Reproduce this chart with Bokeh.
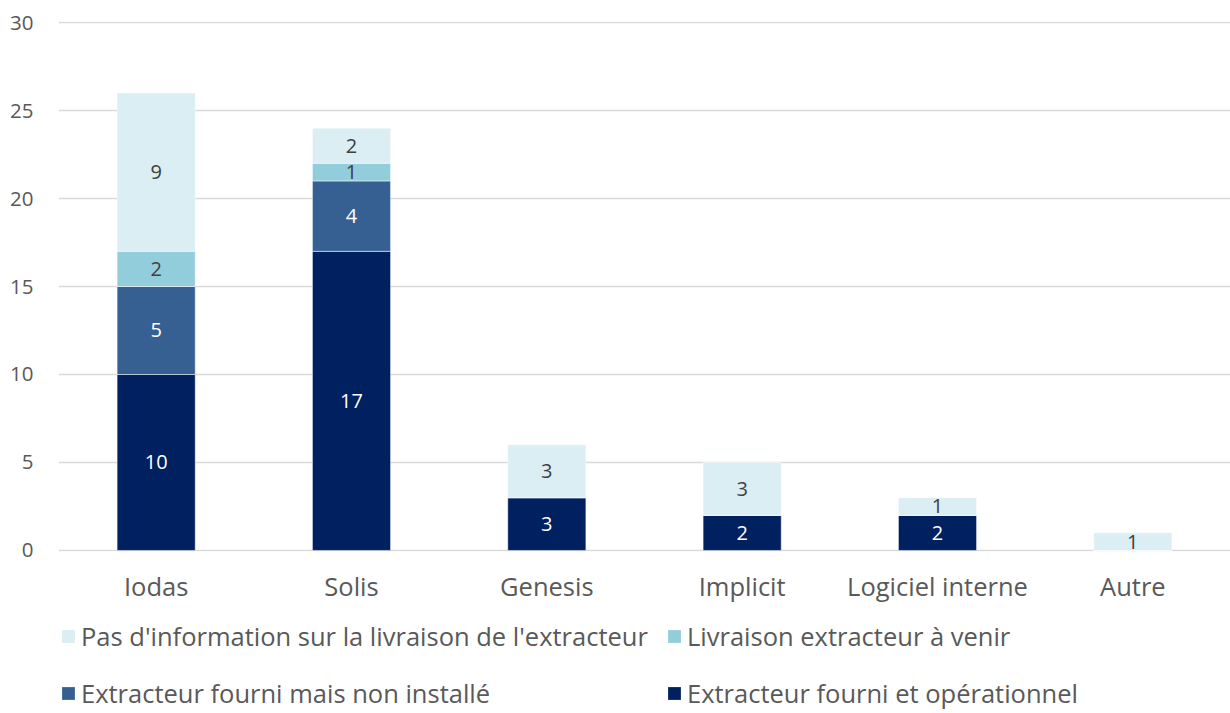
from bokeh.plotting import figure
from bokeh.layouts import column
from bokeh.models import ColumnDataSource, FactorRange, Range1d, Legend, LegendItem, LabelSet, FixedTicker
from bokeh.core.properties import value
from bokeh.embed import file_html
from bokeh.resources import INLINE

categories = ["Iodas", "Solis", "Genesis", "Implicit", "Logiciel interne", "Autre"]
operationnel = [10, 17, 3, 2, 2, 0]
non_installe = [5, 4, 0, 0, 0, 0]
a_venir = [2, 1, 0, 0, 0, 0]
pas_info = [9, 2, 3, 3, 1, 1]
series_keys = ["operationnel", "non_installe", "a_venir", "pas_info"]
series_labels = ["Extracteur fourni et opérationnel", "Extracteur fourni mais non installé",
                 "Livraison extracteur à venir", "Pas d'information sur la livraison de l'extracteur"]
series_colors = ["#002060", "#366092", "#92CDDC", "#DAEEF3"]
label_colors = ["#FFFFFF", "#FFFFFF", "#404040", "#404040"]
y_ticks = [0, 5, 10, 15, 20, 25, 30]

FONT = "Open Sans"
GRAY = "#595959"

data = dict(cat=categories, operationnel=operationnel, non_installe=non_installe,
            a_venir=a_venir, pas_info=pas_info)
src = ColumnDataSource(data)

# ---------------- main chart ----------------
p = figure(x_range=FactorRange(*categories, range_padding=0), y_range=Range1d(-0.06, 30.06),
           width=1230, height=610, output_backend="svg", toolbar_location=None,
           min_border_left=58, min_border_right=0, min_border_top=21, min_border_bottom=59)
p.outline_line_color = None
p.background_fill_color = "white"
p.border_fill_color = "white"

p.vbar_stack(series_keys, x="cat", width=0.4, source=src,
             color=series_colors, line_color="white", line_width=0.5)

# data labels
lx, ly, lt, lc = [], [], [], []
for i, cat in enumerate(categories):
    base = 0
    for k, key in enumerate(series_keys):
        v = data[key][i]
        if v:
            lx.append(cat)
            ly.append(base + v / 2)
            lt.append(str(v))
            lc.append(label_colors[k])
        base += v
lab_src = ColumnDataSource(dict(x=lx, y=ly, t=lt, c=lc))
labels = LabelSet(x="x", y="y", text="t", source=lab_src, text_align="center",
                  text_baseline="middle", text_color="c", text_font_size="20px",
                  text_font=value(FONT))
p.add_layout(labels)

p.yaxis.ticker = FixedTicker(ticks=y_ticks)
p.yaxis.axis_line_color = None
p.yaxis.major_tick_line_color = None
p.yaxis.minor_tick_line_color = None
p.yaxis.major_label_text_font = FONT
p.yaxis.major_label_text_font_size = "20.5px"
p.yaxis.major_label_text_color = GRAY
p.yaxis.major_label_standoff = 19

p.xaxis.axis_line_color = None
p.xaxis.major_tick_line_color = None
p.xaxis.major_label_text_font = FONT
p.xaxis.major_label_text_font_size = "25.5px"
p.xaxis.major_label_text_color = GRAY
p.xaxis.major_label_standoff = 11

p.xgrid.grid_line_color = None
p.ygrid.grid_line_color = "#D9D9D9"
p.ygrid.grid_line_width = 1.5
p.ygrid.ticker = FixedTicker(ticks=y_ticks)

# ---------------- legend strip ----------------
lg = figure(x_range=FactorRange(*categories, range_padding=0), y_range=Range1d(1000, 1010),
            width=1230, height=103, output_backend="svg", toolbar_location=None,
            x_axis_location=None, y_axis_location=None,
            min_border_left=0, min_border_right=0, min_border_top=0, min_border_bottom=0)
lg.outline_line_color = None
lg.grid.visible = False
leg_renderers = lg.vbar_stack(series_keys, x="cat", width=0.4, source=src,
                              fill_color=series_colors, line_color=None)

order = [3, 2, 1, 0]
legend = Legend(items=[LegendItem(label=series_labels[k], renderers=[leg_renderers[k]]) for k in order],
                orientation="horizontal", ncols=2, location=(2, 0),
                label_text_font=FONT, label_text_font_size="25.5px", label_text_color=GRAY,
                glyph_width=16, glyph_height=16, label_standoff=5, spacing=16,
                label_width=569, label_height=41, padding=0, margin=0,
                border_line_color=None, background_fill_alpha=0)
lg.add_layout(legend, "center")

layout = column(p, lg, spacing=0)
open("out.html", "w").write(file_html(layout, INLINE))
